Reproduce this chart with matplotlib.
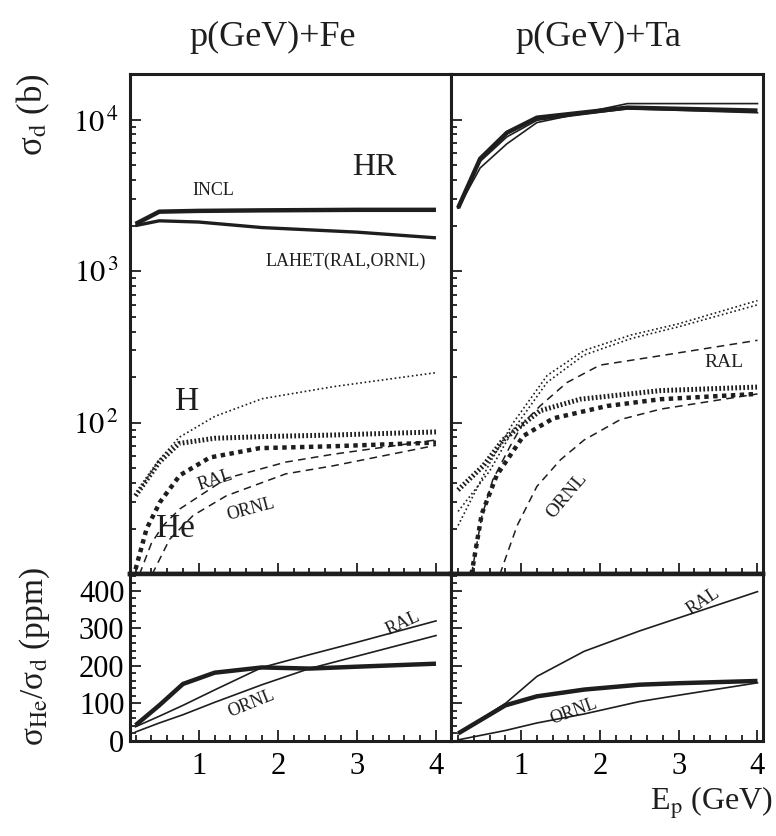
import numpy as np
import matplotlib
matplotlib.use("Agg")
import matplotlib.pyplot as plt
from matplotlib.ticker import MultipleLocator, LogLocator, FixedLocator, NullFormatter, FuncFormatter

plt.rcParams['font.family'] = ['Liberation Serif', 'DejaVu Serif']
plt.rcParams['mathtext.fontset'] = 'stix'

INK = '#1e1e1e'

# ---- p + Fe, sigma_d (b) ----
e_fe_hr = [0.2, 0.5, 1.0, 1.8, 3.0, 4.0]
fe_hr_incl = [2050, 2470, 2500, 2520, 2540, 2540]
fe_hr_lahet = [2000, 2150, 2110, 1940, 1810, 1660]

e_fe_h = [0.2, 0.5, 0.75, 1.2, 1.8, 2.7, 4.0]
fe_h_incl = [33, 55, 73, 79, 81, 83, 87]
fe_h_lahet = [33, 57, 80, 110, 144, 173, 214]

e_fe_he_incl = [0.2, 0.34, 0.51, 0.76, 1.14, 1.77, 2.7, 4.0]
fe_he_incl = [10.8, 20, 30, 45, 59, 68, 70, 74]
e_fe_he_ral = [0.25, 0.4, 0.55, 0.76, 1.35, 2.1, 2.7, 4.0]
fe_he_ral = [10, 16, 21, 27, 43, 55, 62, 77]
e_fe_he_ornl = [0.41, 0.63, 0.93, 1.35, 2.1, 2.7, 4.0]
fe_he_ornl = [10, 17, 24.5, 33, 46, 52, 71]

# ---- p + Ta, sigma_d (b) ----
e_ta_hr = [0.2, 0.48, 0.82, 1.2, 2.35, 4.0]
ta_hr_incl = [2610, 5520, 8200, 10300, 12000, 11470]
ta_hr_lahet1 = [2610, 4800, 6930, 9560, 12760, 12760]
ta_hr_lahet2 = [2610, 5300, 7700, 9900, 11800, 11100]

e_ta_h_incl = [0.2, 0.52, 0.77, 1.24, 1.75, 2.77, 4.0]
ta_h_incl = [36, 52, 77, 120, 143, 163, 172]
e_ta_h_lahet = [0.2, 0.6, 0.9, 1.33, 1.8, 2.4, 3.0, 4.0]
ta_h_lahet1 = [21, 54, 100, 205, 300, 380, 450, 640]
ta_h_lahet2 = [26, 48, 90, 185, 280, 360, 430, 600]

e_ta_he_incl = [0.37, 0.5, 0.69, 1.03, 1.41, 2.09, 2.77, 4.0]
ta_he_incl = [10, 25, 45, 82, 107, 129, 143, 155]
e_ta_he_ral = [0.37, 0.5, 0.64, 0.86, 1.03, 1.24, 1.58, 2.0, 2.77, 4.0]
ta_he_ral = [10, 24, 42, 70, 100, 129, 184, 240, 277, 350]
e_ta_he_ornl = [0.73, 0.95, 1.2, 1.5, 1.8, 2.26, 2.77, 4.0]
ta_he_ornl = [10, 21, 38, 57, 77, 105, 123, 155]

# ---- sigma_He / sigma_d (ppm) ----
e_fe_r = [0.2, 0.5, 0.8, 1.2, 1.8, 2.4, 3.0, 4.0]
fe_r_incl = [42, 95, 152, 182, 196, 193, 198, 206]
fe_r_ral = [38, 66, 95, 136, 196, 230, 263, 320]
fe_r_ornl = [24, 48, 70, 103, 150, 193, 226, 281]

e_ta_r = [0.2, 0.8, 1.2, 1.8, 2.5, 3.0, 4.0]
ta_r_incl = [20, 95, 119, 137, 150, 154, 160]
ta_r_ral = [20, 100, 172, 239, 293, 328, 398]
ta_r_ornl = [3, 28, 48, 72, 105, 122, 155]

W, H = 776, 836
fig = plt.figure(figsize=(W / 100, H / 100), dpi=100)

xl, xm, xr = 130 / W, 451 / W, 763 / W
yt, ym, yb = 1 - 74 / H, 1 - 574 / H, 1 - 741 / H

ax_tl = fig.add_axes([xl, ym, xm - xl, yt - ym])
ax_tr = fig.add_axes([xm, ym, xr - xm, yt - ym])
ax_bl = fig.add_axes([xl, yb, xm - xl, ym - yb])
ax_br = fig.add_axes([xm, yb, xr - xm, ym - yb])


def style(ax):
    for s in ax.spines.values():
        s.set_linewidth(2.2)
        s.set_color(INK)
    ax.tick_params(which='both', direction='in', top=False, right=False,
                   color=INK, width=1.3, labelsize=22, pad=8)
    ax.tick_params(which='major', length=8)
    ax.tick_params(which='minor', length=4)
    ax.xaxis.set_major_locator(FixedLocator([1, 2, 3, 4]))
    ax.xaxis.set_minor_locator(MultipleLocator(0.2))


thick = dict(color=INK, lw=3.2, solid_capstyle='butt')
thin = dict(color=INK, lw=1.2)
dot_thick = dict(color=INK, lw=3.6, dashes=(0.35, 0.45))
dash_thick = dict(color=INK, lw=3.2, dashes=(1.0, 1.0))
dot_thin = dict(color=INK, lw=1.2, dashes=(1.0, 1.6))
dash_thin = dict(color=INK, lw=1.1, dashes=(5, 3.5))

log_fmt = FuncFormatter(lambda v, p: r'$10^{\,%d}$' % round(np.log10(v)))

for ax in (ax_tl, ax_tr):
    ax.set_yscale('log')
    ax.set_ylim(10.05, 2.0e4)
    style(ax)
    ax.spines['bottom'].set_linewidth(3.2)
    ax.yaxis.set_major_locator(FixedLocator([1e2, 1e3, 1e4]))
    ax.yaxis.set_minor_locator(LogLocator(base=10, subs=np.arange(2, 10)))
    ax.yaxis.set_minor_formatter(NullFormatter())
    ax.xaxis.set_major_formatter(NullFormatter())
ax_tl.yaxis.set_major_formatter(log_fmt)
ax_tr.yaxis.set_major_formatter(NullFormatter())

ax_tl.set_xlim(0.13, 4.19)
ax_tr.set_xlim(0.11, 4.07)

# Fe
ax_tl.plot(e_fe_hr, fe_hr_incl, **thick)
ax_tl.plot(e_fe_hr, fe_hr_lahet, **dict(thick, lw=2.4))
ax_tl.plot(e_fe_h, fe_h_lahet, **dot_thin)
ax_tl.plot(e_fe_h, fe_h_incl, **dot_thick)
ax_tl.plot(e_fe_he_incl, fe_he_incl, **dash_thick)
ax_tl.plot(e_fe_he_ral, fe_he_ral, **dash_thin)
ax_tl.plot(e_fe_he_ornl, fe_he_ornl, **dash_thin)

ax_tl.text(3.22, 4810, 'HR', fontsize=23, ha='center', va='center', color=INK)
ax_tl.text(1.18, 3390, 'INCL', fontsize=13, ha='center', va='center', color=INK)
ax_tl.text(2.86, 1164, 'LAHET(RAL,ORNL)', fontsize=13, ha='center', va='center', color=INK)
ax_tl.text(0.85, 138, 'H', fontsize=24, ha='center', va='center', color=INK)
ax_tl.text(0.70, 20, 'He', fontsize=24, ha='center', va='center', color=INK)
ax_tl.text(1.21, 41.5, 'RAL', fontsize=13, ha='center', va='center', rotation=18, color=INK)
ax_tl.text(1.66, 27, 'ORNL', fontsize=13, ha='center', va='center', rotation=15, color=INK)

# Ta
ax_tr.plot(e_ta_hr, ta_hr_lahet1, **thin)
ax_tr.plot(e_ta_hr, ta_hr_lahet2, **thin)
ax_tr.plot(e_ta_hr, ta_hr_incl, **thick)
ax_tr.plot(e_ta_h_lahet, ta_h_lahet1, **dot_thin)
ax_tr.plot(e_ta_h_lahet, ta_h_lahet2, **dot_thin)
ax_tr.plot(e_ta_h_incl, ta_h_incl, **dot_thick)
ax_tr.plot(e_ta_he_incl, ta_he_incl, **dash_thick)
ax_tr.plot(e_ta_he_ral, ta_he_ral, **dash_thin)
ax_tr.plot(e_ta_he_ornl, ta_he_ornl, **dash_thin)

ax_tr.text(3.58, 250, 'RAL', fontsize=14, ha='center', va='center', color=INK)
ax_tr.text(1.58, 33, 'ORNL', fontsize=14, ha='center', va='center', rotation=50, color=INK)

# ratio panels
for ax in (ax_bl, ax_br):
    ax.set_ylim(0, 445)
    style(ax)
    ax.spines['top'].set_linewidth(3.2)
    ax.yaxis.set_major_locator(MultipleLocator(100))
    ax.yaxis.set_minor_locator(MultipleLocator(20))
ax_bl.set_xlim(0.13, 4.19)
ax_br.set_xlim(0.11, 4.07)
ax_br.yaxis.set_major_formatter(NullFormatter())
ax_bl.tick_params(axis='y', pad=4)

ax_bl.plot(e_fe_r, fe_r_ral, **thin)
ax_bl.plot(e_fe_r, fe_r_ornl, **thin)
ax_bl.plot(e_fe_r, fe_r_incl, **thick)
ax_bl.text(3.58, 314, 'RAL', fontsize=13, ha='center', va='center', rotation=25, color=INK)
ax_bl.text(1.66, 99, 'ORNL', fontsize=13, ha='center', va='center', rotation=22, color=INK)

ax_br.plot(e_ta_r, ta_r_ral, **thin)
ax_br.plot(e_ta_r, ta_r_ornl, **thin)
ax_br.plot(e_ta_r, ta_r_incl, **thick)
ax_br.text(3.31, 373, 'RAL', fontsize=13, ha='center', va='center', rotation=33, color=INK)
ax_br.text(1.67, 80, 'ORNL', fontsize=13, ha='center', va='center', rotation=20, color=INK)

# titles and axis labels
fig.text(273 / W, 1 - 37 / H, 'p(GeV)+Fe', fontsize=26, ha='center', va='center', color=INK)
fig.text(598 / W, 1 - 37 / H, 'p(GeV)+Ta', fontsize=26, ha='center', va='center', color=INK)
fig.text(33 / W, 1 - 115 / H, 'σ$_{\\rm d}$ (b)', fontsize=25, rotation=90,
         ha='center', va='center', color=INK)
fig.text(35 / W, 1 - 657 / H, 'σ$_{\\rm He}$/σ$_{\\rm d}$ (ppm)', fontsize=24, rotation=90,
         ha='center', va='center', color=INK)
fig.text(773 / W, 1 - 810 / H, 'E$_{\\rm p}$ (GeV)', fontsize=23, ha='right', va='baseline', color=INK)

fig.savefig('out.png', dpi=100)
